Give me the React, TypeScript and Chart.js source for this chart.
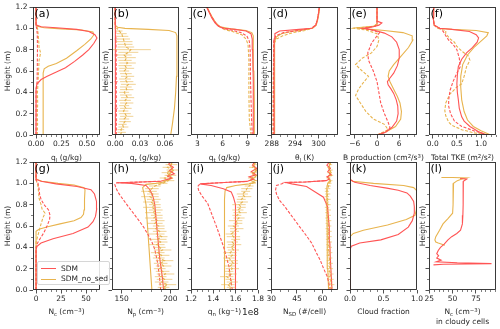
import React, { useEffect, useRef } from 'react';
import { Chart, registerables } from 'chart.js';

Chart.register(...registerables);

const RED = '#ff5454';
const ORANGE = '#e8b44e';
const INK = '#262626';
const FONT = "'DejaVu Sans', sans-serif";
const TICK_FS = 7.5;

// shared height axis
const Y_TICKS = [0, 0.2, 0.4, 0.6, 0.8, 1.0, 1.2];
const Y_TICK_LABELS = ['0.0', '0.2', '0.4', '0.6', '0.8', '1.0', '1.2'];
const Y_RANGE = [0, 1.2];

const Z_B = [0, 0.025, 0.05, 0.075, 0.1, 0.125, 0.15, 0.175, 0.2, 0.225, 0.25, 0.275, 0.3, 0.325, 0.35, 0.375, 0.4, 0.425, 0.45, 0.475, 0.5, 0.525, 0.55, 0.575, 0.6, 0.625, 0.65, 0.675, 0.7, 0.725, 0.75, 0.775, 0.8, 0.825, 0.85, 0.875, 0.9, 0.925, 0.95, 0.975, 1.0];
const Z_FINE = [0, 0.025, 0.05, 0.075, 0.1, 0.125, 0.15, 0.175, 0.2, 0.225, 0.25, 0.275, 0.3, 0.325, 0.35, 0.375, 0.4, 0.425, 0.45, 0.475, 0.5, 0.525, 0.55, 0.575, 0.6, 0.625, 0.65, 0.675, 0.7, 0.725, 0.75, 0.775, 0.8, 0.825, 0.85, 0.875, 0.9, 0.925, 0.95, 0.975, 1.0, 1.025, 1.05, 1.075, 1.1, 1.125, 1.15, 1.175, 1.2];

// (a) q_l  — pairs are [value, height]
const A_X_TICKS = [0, 0.25, 0.5];
const A_X_LABELS = ['0.00', '0.25', '0.50'];
const A_SDM = [[0, 0], [0, 0.3], [0, 0.44], [0.01, 0.48], [0.05, 0.52], [0.11, 0.55], [0.2, 0.59], [0.29, 0.63], [0.38, 0.69], [0.46, 0.75], [0.52, 0.8], [0.57, 0.86], [0.6, 0.91], [0.58, 0.94], [0.52, 0.97], [0.4, 0.99], [0.2, 1.005], [0.05, 1.015], [0.005, 1.03], [0, 1.06], [0, 1.2]];
const A_SDM_DASH = [[0, 0], [0, 0.4], [0.005, 0.45], [0.01, 0.5], [0.012, 0.6], [0.013, 0.7], [0.014, 0.8], [0.013, 0.9], [0.012, 0.95], [0.006, 1.0], [0, 1.02], [0, 1.2]];
const A_NOSED = [[0.07, 0], [0.07, 0.3], [0.07, 0.58], [0.08, 0.62], [0.12, 0.645], [0.2, 0.67], [0.3, 0.72], [0.4, 0.79], [0.48, 0.85], [0.54, 0.9], [0.57, 0.94], [0.56, 0.965], [0.45, 0.985], [0.25, 0.995], [0.08, 1.005], [0.01, 1.02], [0, 1.04], [0, 1.2]];
const A_NOSED_DASH = [[0.012, 0], [0.015, 0.1], [0.013, 0.2], [0.016, 0.3], [0.014, 0.4], [0.02, 0.5], [0.025, 0.6], [0.03, 0.7], [0.045, 0.77], [0.03, 0.82], [0.025, 0.9], [0.02, 0.95], [0.015, 1.0], [0, 1.03], [0, 1.2]];

// (b) q_r
const B_X_TICKS = [0, 0.03, 0.06];
const B_X_LABELS = ['0.00', '0.03', '0.06'];
const B_SDM = [[0.0008, 0], [0.0007, 0.3], [0.0006, 0.6], [0.0005, 0.9], [0.0003, 1.0], [0, 1.03], [0, 1.2]];
const B_SDM_DASH = [[0.0015, 0], [0.0015, 0.25], [0.0014, 0.5], [0.0013, 0.75], [0.001, 0.9], [0.0005, 1.0], [0, 1.03], [0, 1.2]];
const B_SDM_DASH_ERR = [0.002, 0.002, 0.002, 0.002, 0.0015, 0.001, 0, 0];
const B_NOSED = [[0.067, 0], [0.069, 0.1], [0.0715, 0.25], [0.073, 0.4], [0.074, 0.55], [0.0745, 0.7], [0.0745, 0.85], [0.0745, 0.93], [0.073, 0.96], [0.065, 0.98], [0.04, 0.99], [0.012, 1.0], [0.003, 1.01], [0, 1.03], [0, 1.2]];
const B_NOSED_DASH = [0.006, 0.008, 0.007, 0.010, 0.009, 0.012, 0.011, 0.014, 0.012, 0.010, 0.013, 0.011, 0.014, 0.012, 0.015, 0.013, 0.011, 0.014, 0.013, 0.016, 0.014, 0.012, 0.015, 0.013, 0.011, 0.014, 0.012, 0.015, 0.012, 0.014, 0.011, 0.016, 0.019, 0.013, 0.012, 0.011, 0.010, 0.009, 0.008, 0.005, 0.002];
const B_NOSED_DASH_ERR = [0.003, 0.005, 0.004, 0.006, 0.005, 0.007, 0.006, 0.008, 0.007, 0.006, 0.007, 0.006, 0.008, 0.007, 0.008, 0.007, 0.006, 0.008, 0.007, 0.009, 0.008, 0.007, 0.008, 0.007, 0.006, 0.009, 0.008, 0.010, 0.008, 0.011, 0.009, 0.012, 0.024, 0.010, 0.009, 0.010, 0.008, 0.007, 0.006, 0.004, 0.002];

// (c) q_t
const C_X_TICKS = [3, 6, 9];
const C_X_LABELS = ['3', '6', '9'];
const C_SDM = [[9.75, 0], [9.7, 0.2], [9.65, 0.5], [9.6, 0.8], [9.55, 0.9], [9.4, 0.95], [8.8, 0.975], [7.5, 0.99], [6.2, 1.0], [5.5, 1.02], [5.1, 1.05], [4.7, 1.1], [4.4, 1.15], [4.1, 1.2]];
const C_SDM_DASH = [[9.55, 0], [9.45, 0.2], [9.35, 0.5], [9.3, 0.8], [9.2, 0.88], [8.9, 0.93], [8.2, 0.96], [7, 0.985], [6, 1.0], [5.4, 1.03], [5.1, 1.06], [4.7, 1.11], [4.1, 1.2]];
const C_NOSED = [[9.85, 0], [9.8, 0.3], [9.75, 0.6], [9.7, 0.85], [9.65, 0.93], [9.5, 0.96], [8.8, 0.98], [7, 0.995], [5.7, 1.015], [5.2, 1.05], [4.8, 1.1], [4.45, 1.15], [4.15, 1.2]];
const C_NOSED_DASH = [[9.4, 0], [9.2, 0.15], [9.15, 0.4], [9.15, 0.7], [9.05, 0.85], [8.8, 0.9], [8.3, 0.94], [7.2, 0.97], [6.2, 0.99], [5.5, 1.02], [5.1, 1.06], [4.7, 1.11], [4.1, 1.2]];

// (d) theta_l
const D_X_TICKS = [288, 294, 300];
const D_X_LABELS = ['288', '294', '300'];
const D_SDM = [[288.6, 0], [288.55, 0.5], [288.6, 0.9], [288.8, 0.95], [290, 0.975], [295, 0.99], [298.3, 1.0], [299.3, 1.03], [299.7, 1.08], [300, 1.14], [300.2, 1.2]];
const D_SDM_DASH = [[288.4, 0], [288.45, 0.5], [288.5, 0.88], [289, 0.93], [291, 0.96], [295, 0.98], [298, 1.0], [299.3, 1.03], [299.7, 1.08], [300, 1.14], [300.2, 1.2]];
const D_NOSED = [[288.7, 0], [288.7, 0.5], [288.75, 0.88], [289.2, 0.92], [290.5, 0.95], [293, 0.97], [296.5, 0.99], [298.5, 1.0], [299.4, 1.03], [299.8, 1.08], [300.1, 1.14], [300.3, 1.2]];
const D_NOSED_DASH = [[288.3, 0], [288.35, 0.5], [288.5, 0.85], [289.2, 0.9], [290.8, 0.93], [293.5, 0.96], [296.5, 0.98], [298.3, 1.0], [299.3, 1.03], [299.7, 1.08], [300, 1.14], [300.2, 1.2]];

// (e) buoyancy production
const E_X_TICKS = [-6, 0, 6];
const E_X_LABELS = ['\u22126', '0', '6'];
const E_SDM = [[0, 0], [2, 0.02], [4, 0.07], [5.3, 0.13], [5.7, 0.2], [5.6, 0.27], [5.2, 0.33], [4.5, 0.39], [3.8, 0.43], [3, 0.47], [2.8, 0.5], [3.4, 0.53], [4.5, 0.58], [5.5, 0.65], [6, 0.72], [6, 0.8], [5.3, 0.87], [4, 0.92], [2, 0.955], [-0.5, 0.98], [-3.5, 1.0], [-1, 1.015], [0.5, 1.03], [1.3, 1.05], [0.2, 1.065], [0, 1.08], [0, 1.2]];
const E_SDM_DASH = [[0, 0], [2.5, 0.03], [3.5, 0.07], [3, 0.12], [2, 0.2], [1, 0.3], [0.5, 0.4], [0, 0.5], [-1, 0.6], [-2.3, 0.7], [-2.5, 0.77], [-1.5, 0.86], [0, 0.93], [0.7, 0.96], [-1.5, 0.985], [-4, 1.0], [-0.5, 1.02], [0, 1.04], [0, 1.2]];
const E_NOSED = [[0, 0], [2.5, 0.03], [5, 0.08], [6.4, 0.15], [6.6, 0.22], [6.2, 0.3], [5.5, 0.36], [4.5, 0.43], [3.5, 0.5], [3, 0.55], [3.3, 0.6], [4.5, 0.66], [6.5, 0.74], [8.5, 0.82], [9.7, 0.89], [9.5, 0.93], [7, 0.96], [2, 0.98], [-3, 0.995], [-5.5, 1.005], [-1, 1.02], [0, 1.035], [0, 1.2]];
const E_NOSED_DASH = [[0, 0], [3, 0.05], [2, 0.1], [-1, 0.15], [-3, 0.22], [-4.5, 0.3], [-5.8, 0.37], [-5, 0.43], [-3.5, 0.5], [-2.3, 0.55], [-4, 0.6], [-5.8, 0.66], [-4, 0.72], [-1.5, 0.77], [0, 0.83], [0.5, 0.89], [0, 0.95], [-3, 0.985], [-6.3, 1.0], [-1, 1.02], [0, 1.04], [0, 1.2]];

// (f) total TKE
const F_X_TICKS = [0, 0.5, 1.0];
const F_X_LABELS = ['0.0', '0.5', '1.0'];
const F_SDM = [[1.12, 0], [0.95, 0.03], [0.77, 0.08], [0.65, 0.13], [0.6, 0.17], [0.55, 0.25], [0.53, 0.33], [0.51, 0.4], [0.5, 0.48], [0.51, 0.56], [0.53, 0.64], [0.6, 0.71], [0.7, 0.77], [0.82, 0.82], [0.92, 0.87], [0.95, 0.91], [0.9, 0.94], [0.76, 0.97], [0.4, 0.99], [0.14, 1.0], [0.03, 1.03], [0.01, 1.1], [0.02, 1.2]];
const F_SDM_DASH = [[1.15, 0], [0.85, 0.04], [0.6, 0.08], [0.45, 0.13], [0.37, 0.2], [0.33, 0.27], [0.33, 0.33], [0.36, 0.42], [0.42, 0.5], [0.5, 0.58], [0.57, 0.64], [0.55, 0.72], [0.5, 0.8], [0.42, 0.85], [0.33, 0.89], [0.27, 0.93], [0.22, 0.97], [0.15, 1.0], [0.03, 1.03], [0.01, 1.1], [0.02, 1.2]];
const F_NOSED = [[1.2, 0], [1.0, 0.04], [0.84, 0.08], [0.72, 0.14], [0.65, 0.22], [0.6, 0.33], [0.58, 0.45], [0.58, 0.55], [0.62, 0.66], [0.72, 0.75], [0.85, 0.82], [1.0, 0.88], [1.12, 0.93], [1.15, 0.96], [0.9, 0.98], [0.4, 0.99], [0.14, 1.0], [0.03, 1.03], [0.01, 1.1], [0.02, 1.2]];
const F_NOSED_DASH = [[1.2, 0], [0.85, 0.02], [0.6, 0.05], [0.4, 0.09], [0.33, 0.12], [0.27, 0.18], [0.25, 0.23], [0.27, 0.3], [0.35, 0.38], [0.5, 0.45], [0.6, 0.48], [0.65, 0.55], [0.7, 0.64], [0.77, 0.7], [0.74, 0.74], [0.62, 0.78], [0.5, 0.83], [0.45, 0.87], [0.36, 0.9], [0.27, 0.95], [0.27, 0.98], [0.1, 1.0], [0.03, 1.03], [0.01, 1.1], [0.02, 1.2]];

// (g) N_c
const G_X_TICKS = [0, 25, 50];
const G_X_LABELS = ['0', '25', '50'];
const G_SDM = [[0, 0], [0, 0.38], [1, 0.41], [5, 0.44], [17, 0.48], [37, 0.53], [52, 0.59], [57, 0.64], [59.5, 0.69], [60.7, 0.76], [60.5, 0.83], [58.5, 0.9], [55, 0.94], [41, 0.97], [20, 0.995], [5, 1.02], [0.5, 1.035], [0, 1.06], [0, 1.2]];
const G_SDM_DASH = [[0, 0], [0, 0.4], [1.5, 0.44], [4, 0.48], [8, 0.54], [11, 0.6], [13.5, 0.66], [14, 0.7], [12.5, 0.75], [8, 0.8], [5, 0.85], [3.5, 0.9], [3, 0.95], [2, 1.0], [0, 1.03], [0, 1.2]];
const G_NOSED = [[0, 0], [0, 0.55], [3, 0.57], [10.7, 0.59], [24, 0.62], [38, 0.65], [45, 0.68], [47.5, 0.71], [48, 0.75], [48.5, 0.85], [49, 0.94], [48, 0.96], [38, 0.985], [22, 1.0], [6, 1.02], [1, 1.035], [0, 1.05], [0, 1.2]];
const G_NOSED_DASH = [[0, 0], [0, 0.45], [1.5, 0.5], [3, 0.55], [5, 0.62], [7, 0.68], [9, 0.72], [6, 0.76], [5, 0.8], [3, 0.86], [2.5, 0.92], [2, 0.97], [0.5, 1.02], [0, 1.04], [0, 1.2]];

// (h) N_p
const H_X_TICKS = [150, 200];
const H_X_LABELS = ['150', '200'];
const H_SDM = [[193, 0], [192, 0.1], [190.5, 0.2], [189, 0.3], [188, 0.4], [187, 0.5], [186, 0.6], [185, 0.7], [184, 0.8], [182, 0.88], [179, 0.94], [175, 0.98], [160, 1.0], [145, 1.005], [170, 1.012], [190, 1.02], [196, 1.035], [201, 1.05], [197, 1.07], [204, 1.09], [199, 1.12], [203, 1.15], [198, 1.18], [201, 1.2]];
const H_SDM_DASH = [[190, 0], [189, 0.1], [187, 0.25], [184, 0.38], [181, 0.45], [177, 0.52], [172.5, 0.59], [167, 0.66], [162, 0.72], [157, 0.78], [153, 0.83], [149, 0.88], [146, 0.92], [144, 0.96], [143, 0.99], [145, 1.005], [170, 1.012], [190, 1.02]];
const H_NOSED = [[181, 0], [179.5, 0.2], [178, 0.4], [176.5, 0.6], [175, 0.8], [173, 0.9], [171.5, 0.96], [175, 0.99], [185, 1.0], [192, 1.01], [197, 1.03], [202, 1.05], [198, 1.08], [203, 1.12], [200, 1.16], [202, 1.2]];
const H_NOSED_DASH = [196, 193, 197, 191, 194, 190, 195, 192, 189, 193, 190, 194, 188, 191, 187, 192, 189, 186, 190, 187, 191, 186, 189, 185, 188, 184, 187, 183, 186, 182, 185, 181, 184, 180, 183, 179, 182, 178, 181, 184, 192, 198, 194, 200, 196, 202, 197, 201, 199];
const H_NOSED_DASH_ERR = [8, 6, 9, 7, 8, 6, 9, 7, 6, 8, 7, 9, 6, 8, 7, 9, 6, 8, 7, 9, 6, 8, 7, 9, 6, 8, 7, 9, 6, 8, 7, 9, 6, 8, 7, 9, 6, 8, 7, 6, 5, 6, 5, 6, 5, 6, 5, 6, 5];

// (i) q_n (x 1e8)
const I_X_TICKS = [1.2, 1.4, 1.6, 1.8];
const I_X_LABELS = ['1.2', '1.4', '1.6', '1.8'];
const I_SDM = [[1.6, 0], [1.6, 0.4], [1.6, 0.7], [1.595, 0.8], [1.58, 0.87], [1.56, 0.92], [1.49, 0.95], [1.38, 0.98], [1.28, 0.995], [1.5, 1.008], [1.7, 1.018], [1.76, 1.04], [1.72, 1.06], [1.78, 1.08], [1.74, 1.11], [1.79, 1.14], [1.75, 1.17], [1.77, 1.2]];
const I_SDM_DASH = [[1.57, 0], [1.555, 0.1], [1.54, 0.22], [1.515, 0.32], [1.49, 0.41], [1.46, 0.5], [1.43, 0.59], [1.39, 0.7], [1.35, 0.81], [1.3, 0.88], [1.27, 0.93], [1.26, 0.97], [1.28, 0.995], [1.5, 1.008], [1.7, 1.018]];
const I_NOSED = [[1.5, 0], [1.5, 0.3], [1.5, 0.6], [1.5, 0.85], [1.505, 0.93], [1.52, 0.96], [1.6, 0.98], [1.72, 0.995], [1.77, 1.01], [1.73, 1.03], [1.78, 1.06], [1.75, 1.09], [1.79, 1.12], [1.76, 1.16], [1.78, 1.2]];
const I_NOSED_DASH = [1.54, 1.56, 1.53, 1.57, 1.55, 1.52, 1.56, 1.54, 1.57, 1.55, 1.58, 1.56, 1.54, 1.57, 1.55, 1.58, 1.56, 1.59, 1.57, 1.60, 1.58, 1.56, 1.59, 1.61, 1.58, 1.62, 1.60, 1.63, 1.61, 1.64, 1.62, 1.65, 1.63, 1.66, 1.65, 1.68, 1.66, 1.69, 1.70, 1.72, 1.75, 1.78, 1.74, 1.79, 1.76, 1.78, 1.75, 1.77, 1.76];
const I_NOSED_DASH_ERR = [0.05, 0.04, 0.06, 0.05, 0.04, 0.06, 0.05, 0.04, 0.06, 0.05, 0.04, 0.06, 0.05, 0.04, 0.06, 0.05, 0.04, 0.06, 0.05, 0.04, 0.06, 0.05, 0.04, 0.06, 0.05, 0.04, 0.06, 0.05, 0.04, 0.06, 0.05, 0.04, 0.06, 0.05, 0.04, 0.06, 0.05, 0.04, 0.05, 0.04, 0.03, 0.02, 0.03, 0.02, 0.03, 0.02, 0.03, 0.02, 0.03];

// (j) N_SD
const J_X_TICKS = [30, 45, 60];
const J_X_LABELS = ['30', '45', '60'];
const J_SDM = [[65.5, 0], [65, 0.15], [64.5, 0.3], [64.2, 0.45], [63.9, 0.59], [63.3, 0.7], [62.9, 0.78], [60.5, 0.87], [56.6, 0.91], [50.6, 0.97], [42, 0.995], [38.5, 1.008], [50, 1.013], [62, 1.025], [64, 1.04], [62.5, 1.06], [65, 1.08], [63, 1.11], [64.5, 1.14], [62.5, 1.17], [64, 1.2]];
const J_SDM_DASH = [[64.5, 0], [63.6, 0.07], [62.6, 0.13], [60.6, 0.2], [58.6, 0.28], [56, 0.36], [53.6, 0.44], [50, 0.52], [46.7, 0.59], [43.5, 0.66], [40.7, 0.72], [37.5, 0.79], [34.8, 0.84], [33, 0.9], [32.5, 0.94], [33, 0.98], [38.5, 1.008], [50, 1.013], [62, 1.025]];
const J_NOSED = [[63.5, 0], [63, 0.2], [62.7, 0.5], [62.5, 0.8], [62.5, 0.96], [63, 1.0], [64.5, 1.03], [63, 1.06], [65, 1.1], [63.5, 1.14], [64.5, 1.2]];
const J_NOSED_DASH = [65.5, 64.8, 65.3, 64.5, 65, 64.2, 64.8, 64, 64.6, 63.8, 64.4, 63.7, 64.2, 63.5, 64.1, 63.4, 64, 63.3, 63.9, 63.2, 63.8, 63.1, 63.7, 63, 63.6, 62.9, 63.5, 62.8, 63.4, 62.7, 63.3, 62.6, 63.2, 62.6, 63.1, 62.5, 63, 62.5, 62.9, 63.5, 64, 64.8, 63.5, 65.2, 64, 65, 63.8, 64.6, 64.2];
const J_NOSED_DASH_ERR = [1.5, 1.2, 1.6, 1.3, 1.5, 1.2, 1.6, 1.3, 1.5, 1.2, 1.6, 1.3, 1.5, 1.2, 1.6, 1.3, 1.5, 1.2, 1.6, 1.3, 1.5, 1.2, 1.6, 1.3, 1.5, 1.2, 1.6, 1.3, 1.5, 1.2, 1.6, 1.3, 1.5, 1.2, 1.6, 1.3, 1.5, 1.2, 1.6, 1.3, 1.2, 1.0, 1.2, 1.0, 1.2, 1.0, 1.2, 1.0, 1.2];

// (k) cloud fraction
const K_X_TICKS = [0, 0.5, 1.0];
const K_X_LABELS = ['0.0', '0.5', '1.0'];
const K_SDM = [[0, 0], [0, 0.38], [0.02, 0.41], [0.145, 0.44], [0.46, 0.47], [0.72, 0.52], [0.87, 0.59], [0.93, 0.65], [0.96, 0.72], [0.96, 0.78], [0.95, 0.83], [0.9, 0.88], [0.85, 0.91], [0.72, 0.935], [0.55, 0.955], [0.3, 0.98], [0.07, 1.01], [0, 1.035], [0, 1.2]];
const K_NOSED = [[0, 0], [0, 0.5], [0.05, 0.53], [0.2, 0.56], [0.56, 0.61], [0.84, 0.66], [0.97, 0.7], [0.99, 0.75], [1.0, 0.85], [1.0, 0.93], [0.95, 0.96], [0.8, 0.98], [0.35, 1.0], [0.04, 1.02], [0, 1.04], [0, 1.2]];

// (l) N_c in cloudy cells
const L_X_TICKS = [25, 50, 75];
const L_X_LABELS = ['25', '50', '75'];
const L_SDM = [[58, 1.045], [65, 1.04], [61.5, 1.02], [61.4, 1.0], [61.3, 0.9], [61.2, 0.8], [61, 0.7], [60.5, 0.62], [58.5, 0.56], [54.5, 0.53], [49, 0.5], [45, 0.47], [41, 0.43], [37, 0.4], [34.6, 0.37], [33, 0.34], [35, 0.32], [33, 0.3], [37.7, 0.28], [32.6, 0.265], [55, 0.255], [91.7, 0.247], [40, 0.242], [29.5, 0.236]];
const L_NOSED = [[38, 1.055], [50, 1.054], [65, 1.05], [60, 1.04], [55, 1.025], [51, 1.0], [50.5, 0.9], [50.5, 0.8], [50, 0.72], [45, 0.67], [39.7, 0.62], [36, 0.56], [32, 0.5], [31, 0.47], [32, 0.45], [34.6, 0.44], [41.7, 0.42]];

const zip = (vals, zs) => vals.map((v, i) => [v, zs[i]]);

const solid = (pts, color) => ({ pts, color });
const dashed = (pts, color, err?) => ({ pts, color, dash: [3, 1.6], err });

const COL_LEFT = [33, 112, 191, 271, 350, 429];
const ROW_TOP = [7, 162];
const PW = 67;
const PH = 128;
const PADL = 33;
const PADT = 8;
const PADR = 12;
const PADB = 28;

const sub = (t) => <sub style={{ fontSize: '0.72em', verticalAlign: '-0.3em', lineHeight: 0 }}>{t}</sub>;
const sup = (t) => <sup style={{ fontSize: '0.72em', verticalAlign: '0.45em', lineHeight: 0 }}>{t}</sup>;

const PANELS = [
  { tag: '(a)', row: 0, col: 0, xr: [-0.03, 0.63], xt: A_X_TICKS, xl: A_X_LABELS, minor: 0.05,
    title: <>q{sub('l')} (g/kg)</>,
    series: [solid(A_SDM, RED), dashed(A_SDM_DASH, RED), solid(A_NOSED, ORANGE), dashed(A_NOSED_DASH, ORANGE)] },
  { tag: '(b)', row: 0, col: 1, xr: [-0.0037, 0.077], xt: B_X_TICKS, xl: B_X_LABELS, minor: 0.01,
    title: <>q{sub('r')} (g/kg)</>,
    series: [solid(B_SDM, RED), dashed(B_SDM_DASH, RED, B_SDM_DASH_ERR), solid(B_NOSED, ORANGE), dashed(zip(B_NOSED_DASH, Z_B), ORANGE, B_NOSED_DASH_ERR)] },
  { tag: '(c)', row: 0, col: 2, xr: [2.23, 10.24], xt: C_X_TICKS, xl: C_X_LABELS, minor: 1,
    title: <>q{sub('t')} (g/kg)</>,
    series: [solid(C_SDM, RED), dashed(C_SDM_DASH, RED), solid(C_NOSED, ORANGE), dashed(C_NOSED_DASH, ORANGE)] },
  { tag: '(d)', row: 0, col: 3, xr: [287.8, 305], xt: D_X_TICKS, xl: D_X_LABELS, minor: 2,
    title: <>θ{sub('l')} (K)</>,
    series: [solid(D_SDM, RED), dashed(D_SDM_DASH, RED), solid(D_NOSED, ORANGE), dashed(D_NOSED_DASH, ORANGE)] },
  { tag: '(e)', row: 0, col: 4, xr: [-7.3, 10.8], xt: E_X_TICKS, xl: E_X_LABELS, minor: 2,
    title: <>B production (cm{sup('2')}/s{sup('3')})</>,
    series: [solid(E_SDM, RED), dashed(E_SDM_DASH, RED), solid(E_NOSED, ORANGE), dashed(E_NOSED_DASH, ORANGE)] },
  { tag: '(f)', row: 0, col: 5, xr: [-0.077, 1.31], xt: F_X_TICKS, xl: F_X_LABELS, minor: 0.1,
    title: <>Total TKE (m{sup('2')}/s{sup('2')})</>,
    series: [solid(F_SDM, RED), dashed(F_SDM_DASH, RED), solid(F_NOSED, ORANGE), dashed(F_NOSED_DASH, ORANGE)] },
  { tag: '(g)', row: 1, col: 0, xr: [-3.05, 64], xt: G_X_TICKS, xl: G_X_LABELS, minor: 5,
    title: <>N{sub('c')} (cm{sup('\u22123')})</>,
    series: [solid(G_SDM, RED), dashed(G_SDM_DASH, RED), solid(G_NOSED, ORANGE), dashed(G_NOSED_DASH, ORANGE)] },
  { tag: '(h)', row: 1, col: 1, xr: [140.1, 208.8], xt: H_X_TICKS, xl: H_X_LABELS, minor: 10,
    title: <>N{sub('p')} (cm{sup('\u22123')})</>,
    series: [solid(H_SDM, RED), dashed(H_SDM_DASH, RED), solid(H_NOSED, ORANGE), dashed(zip(H_NOSED_DASH, Z_FINE), ORANGE, H_NOSED_DASH_ERR)] },
  { tag: '(i)', row: 1, col: 2, xr: [1.2, 1.8], xt: I_X_TICKS, xl: I_X_LABELS, minor: 0.05,
    title: <>q{sub('n')} (kg{sup('\u22121')})</>, offset: '1e8',
    series: [solid(I_SDM, RED), dashed(I_SDM_DASH, RED), solid(I_NOSED, ORANGE), dashed(zip(I_NOSED_DASH, Z_FINE), ORANGE, I_NOSED_DASH_ERR)] },
  { tag: '(j)', row: 1, col: 3, xr: [29.8, 69], xt: J_X_TICKS, xl: J_X_LABELS, minor: 5,
    title: <>N{sub('SD')} (#/cell)</>,
    series: [solid(J_SDM, RED), dashed(J_SDM_DASH, RED), solid(J_NOSED, ORANGE), dashed(zip(J_NOSED_DASH, Z_FINE), ORANGE, J_NOSED_DASH_ERR)] },
  { tag: '(k)', row: 1, col: 4, xr: [0, 1], xt: K_X_TICKS, xl: K_X_LABELS, minor: 0.1,
    title: <>Cloud fraction</>,
    series: [solid(K_SDM, RED), solid(K_NOSED, ORANGE)] },
  { tag: '(l)', row: 1, col: 5, xr: [24.7, 96.5], xt: L_X_TICKS, xl: L_X_LABELS, minor: 5,
    title: <>N{sub('c')} (cm{sup('\u22123')})<br />in cloudy cells</>, twoLine: true,
    series: [solid(L_SDM, RED), solid(L_NOSED, ORANGE)] },
];

const framePlugin = {
  id: 'frame',
  afterDraw(chart) {
    const { ctx, chartArea: a } = chart;
    ctx.save();
    ctx.strokeStyle = INK;
    ctx.lineWidth = 0.9;
    ctx.strokeRect(a.left + 0.5, a.top + 0.5, a.right - a.left - 1, a.bottom - a.top - 1);
    ctx.restore();
  },
};

const minorPlugin = {
  id: 'minorTicks',
  afterDraw(chart, _args, opts) {
    const { ctx, chartArea: a } = chart;
    const xs = chart.scales.x;
    const ys = chart.scales.y;
    ctx.save();
    ctx.strokeStyle = INK;
    ctx.lineWidth = 0.6;
    ctx.beginPath();
    const isMajor = (v, list) => list.some((m) => Math.abs(m - v) < 1e-9 * Math.max(1, Math.abs(m)) + 1e-12);
    const xStep = opts.xStep;
    for (let k = Math.ceil(xs.min / xStep - 1e-9); k * xStep <= xs.max + 1e-9; k++) {
      const v = k * xStep;
      if (isMajor(v, opts.xMajor)) continue;
      const px = Math.round(xs.getPixelForValue(v)) + 0.5;
      ctx.moveTo(px, a.bottom);
      ctx.lineTo(px, a.bottom + 2);
    }
    for (let k = 1; k < 12; k += 2) {
      const py = Math.round(ys.getPixelForValue(k * 0.1)) + 0.5;
      ctx.moveTo(a.left, py);
      ctx.lineTo(a.left - 2, py);
    }
    ctx.stroke();
    ctx.restore();
  },
};

const errPlugin = {
  id: 'errBars',
  afterDatasetsDraw(chart) {
    const { ctx, chartArea: a } = chart;
    const xs = chart.scales.x;
    const ys = chart.scales.y;
    ctx.save();
    ctx.beginPath();
    ctx.rect(a.left, a.top, a.right - a.left, a.bottom - a.top);
    ctx.clip();
    chart.data.datasets.forEach((ds) => {
      if (!ds.errX) return;
      ctx.strokeStyle = ds.borderColor;
      ctx.globalAlpha = 0.75;
      ctx.lineWidth = 0.8;
      ctx.beginPath();
      ds.data.forEach((p, i) => {
        const e = ds.errX[i];
        if (!e) return;
        const py = ys.getPixelForValue(p.y);
        ctx.moveTo(xs.getPixelForValue(p.x - e), py);
        ctx.lineTo(xs.getPixelForValue(p.x + e), py);
      });
      ctx.stroke();
    });
    ctx.restore();
  },
};

function Panel({ p }) {
  const ref = useRef(null);
  const L = COL_LEFT[p.col];
  const T = ROW_TOP[p.row];
  const cw = PADL + PW + PADR;
  const ch = PADT + PH + PADB;
  useEffect(() => {
    const showY = p.col === 0;
    const chart = new Chart(ref.current, {
      type: 'line',
      data: {
        datasets: p.series.map((s) => ({
          data: s.pts.map(([x, y]) => ({ x, y })),
          borderColor: s.color,
          borderWidth: 1.1,
          borderDash: s.dash || [],
          pointRadius: 0,
          fill: false,
          tension: 0,
          errX: s.err,
        })),
      },
      options: {
        animation: false,
        responsive: false,
        maintainAspectRatio: false,
        events: [],
        layout: { padding: { top: PADT, right: PADR, left: 0, bottom: 0 } },
        plugins: {
          legend: { display: false },
          tooltip: { enabled: false },
          minorTicks: { xStep: p.minor, xMajor: p.xt },
        },
        scales: {
          x: {
            type: 'linear',
            min: p.xr[0],
            max: p.xr[1],
            afterBuildTicks: (s) => { s.ticks = p.xt.map((v) => ({ value: v })); },
            afterFit: (s) => { s.height = PADB; },
            ticks: {
              autoSkip: false,
              maxRotation: 0,
              padding: 1.5,
              color: INK,
              font: { family: FONT, size: TICK_FS },
              callback: (_v, i) => p.xl[i],
            },
            grid: { drawOnChartArea: false, drawTicks: true, tickLength: 3.5, color: INK, lineWidth: 0.8 },
            border: { display: false },
          },
          y: {
            type: 'linear',
            min: Y_RANGE[0],
            max: Y_RANGE[1],
            afterBuildTicks: (s) => { s.ticks = Y_TICKS.map((v) => ({ value: v })); },
            afterFit: (s) => { s.width = PADL; },
            ticks: {
              autoSkip: false,
              padding: 2,
              color: INK,
              font: { family: FONT, size: TICK_FS },
              callback: (_v, i) => (showY ? Y_TICK_LABELS[i] : ''),
            },
            grid: { drawOnChartArea: false, drawTicks: true, tickLength: 3.5, color: INK, lineWidth: 0.8 },
            border: { display: false },
          },
        },
      },
      plugins: [errPlugin, minorPlugin, framePlugin],
    });
    return () => chart.destroy();
  }, []);

  const titleTop = p.row === 0 ? 157.5 : 312;
  const yTitleX = p.col === 0 ? 7.5 : L - 6.5;
  return (
    <>
      <canvas
        ref={ref}
        width={cw}
        height={ch}
        style={{ position: 'absolute', left: L - PADL, top: T - PADT, width: cw, height: ch }}
      />
      <div style={{ position: 'absolute', left: L + 1.5, top: T + 1, fontSize: 11, lineHeight: '12px', fontFamily: FONT, color: '#000' }}>{p.tag}</div>
      <div
        style={{
          position: 'absolute', left: yTitleX, top: T + PH / 2, fontSize: TICK_FS, lineHeight: 1, fontFamily: FONT, color: INK,
          whiteSpace: 'nowrap', transform: 'translate(-50%, -50%) rotate(-90deg)',
        }}
      >
        Height (m)
      </div>
      <div
        style={{
          position: 'absolute', left: L - 20, width: PW + 40, textAlign: 'center',
          top: p.twoLine ? titleTop - 5 : titleTop - TICK_FS / 2, fontSize: TICK_FS,
          lineHeight: p.twoLine ? '9.5px' : `${TICK_FS}px`, fontFamily: FONT, color: INK, whiteSpace: 'nowrap',
        }}
      >
        {p.title}
      </div>
      {p.offset ? (
        <div style={{ position: 'absolute', left: L + PW - 20, width: 21, textAlign: 'right', top: titleTop - 5, fontSize: 9, lineHeight: '10px', fontFamily: FONT, color: INK }}>{p.offset}</div>
      ) : null}
    </>
  );
}

function Legend() {
  const row = (color, label, top) => (
    <div style={{ position: 'absolute', left: 0, top, height: 10, width: '100%' }}>
      <div style={{ position: 'absolute', left: 3, top: 4.5, width: 15, height: 0, borderTop: `1.1px solid ${color}` }} />
      <div style={{ position: 'absolute', left: 23, top: 0, fontSize: 7.5, lineHeight: '10px', fontFamily: FONT, color: INK, whiteSpace: 'nowrap' }}>{label}</div>
    </div>
  );
  return (
    <div style={{ position: 'absolute', left: 37, top: 261, width: 73, height: 24, background: 'rgba(255,255,255,0.85)', border: '1px solid #d6d6d6', borderRadius: 2, boxSizing: 'border-box' }}>
      {row(RED, 'SDM', 1.5)}
      {row(ORANGE, 'SDM_no_sed', 12)}
    </div>
  );
}

export default function App() {
  return (
    <div style={{ position: 'absolute', left: 0, top: 0, width: 500, height: 329, background: '#fff', overflow: 'hidden' }}>
      {PANELS.map((p) => <Panel key={p.tag} p={p} />)}
      <Legend />
    </div>
  );
}
